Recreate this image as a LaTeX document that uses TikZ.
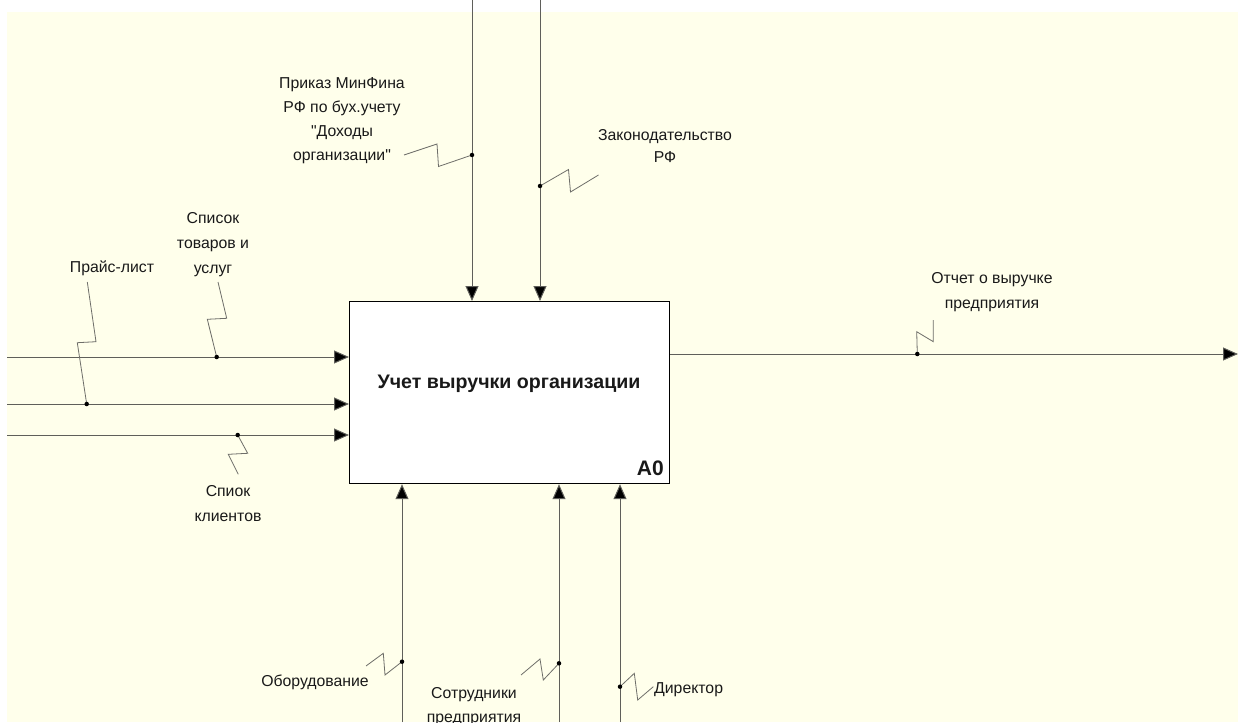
\documentclass[tikz,border=0pt]{standalone}
\usepackage{fontspec}
\setmainfont{Liberation Sans}[Ligatures=TeXOff]
\usetikzlibrary{arrows.meta}
\definecolor{bg}{RGB}{255,255,235}
\definecolor{ln}{RGB}{95,95,90}
\definecolor{sq}{RGB}{110,110,105}
\definecolor{tx}{RGB}{25,25,25}
\begin{document}
\begin{tikzpicture}[x=1pt,y=-1pt,
  arr/.style={draw=ln, line width=1pt, -{Triangle[length=15pt,width=13pt,fill=black]}},
  squig/.style={draw=sq, line width=0.8pt},
  dot/.style={circle, fill=black, inner sep=0pt, minimum size=4.5pt},
  lbl/.style={text=tx, font=\fontsize{15.8}{24}\selectfont, align=center, inner sep=0pt},
  procbox/.style={draw=black, line width=1.2pt, fill=white, minimum width=320pt, minimum height=182pt, anchor=north west, inner sep=0pt}
]
\useasboundingbox (0,0) rectangle (1238,722);
\fill[white] (0,0) rectangle (1238,722);
\fill[bg] (7,12) rectangle (1238,722);
\begin{scope}
\clip (0,0) rectangle (1238,722);

% process box
\node[procbox] (box) at (349,301) {};
\node[text=tx, font=\bfseries\fontsize{19.6}{21}\selectfont, inner sep=0pt] (title) at (509,384) {Учет выручки организации};
\node[text=tx, font=\bfseries\fontsize{21}{22}\selectfont, anchor=south east, inner sep=0pt] (a0) at (664,476) {A0};

% free ends
\coordinate (i1) at (7,357);
\coordinate (i2) at (7,404);
\coordinate (i3) at (7,435);
\coordinate (c1) at (472,0);
\coordinate (c2) at (540,0);
\coordinate (m1) at (402,722);
\coordinate (m2) at (559,722);
\coordinate (m3) at (620,722);
\coordinate (o1) at (1238,354);

% arrows
\draw[arr] (i1) -- (box.west |- i1);
\draw[arr] (i2) -- (box.west |- i2);
\draw[arr] (i3) -- (box.west |- i3);
\draw[arr] (c1) -- (c1 |- box.north);
\draw[arr] (c2) -- (c2 |- box.north);
\draw[arr] (m1) -- (m1 |- box.south);
\draw[arr] (m2) -- (m2 |- box.south);
\draw[arr] (m3) -- (m3 |- box.south);
\draw[arr] (box.east |- o1) -- (o1);

% labels
\node[lbl] (lprikaz) at (342,121) {Приказ МинФина\\РФ по бух.учету\\"Доходы\\организации"};
\node[lbl, font=\fontsize{15.8}{22}\selectfont] (lzakon) at (665,146.5) {Законодательство\\РФ};
\node[lbl, font=\fontsize{15.8}{25}\selectfont] (lspisok) at (213,245) {Список\\товаров и\\услуг};
\node[lbl] (lprice) at (112,268) {Прайс-лист};
\node[lbl, font=\fontsize{15.8}{25}\selectfont] (lklient) at (228,504) {Спиок\\клиентов};
\node[lbl, font=\fontsize{15.8}{25}\selectfont] (lotchet) at (992,292.5) {Отчет о выручке\\предприятия};
\node[lbl] (lobor) at (315,682) {Оборудование};
\node[lbl] (lsotr) at (474,707) {Сотрудники\\предприятия};
\node[lbl, anchor=west] (ldir) at (654,690) {Директор};

% squiggles and dots
\coordinate (dprikaz) at (472,155);
\draw[squig] (404,155) -- (437,144) -- (438.5,166.5) -- (dprikaz);
\node[dot] at (dprikaz) {};

\coordinate (dzakon) at (540,186);
\draw[squig] (dzakon) -- (568.5,169.5) -- (570.5,192) -- (598.5,175);
\node[dot] at (dzakon) {};

\coordinate (dspisok) at (216.7,357);
\draw[squig] (218,282) -- (226.7,318.3) -- (207.3,319.3) -- (dspisok);
\node[dot] at (dspisok) {};

\coordinate (dprice) at (86.7,404);
\draw[squig] (87.3,282) -- (96,341.7) -- (77.3,342.7) -- (dprice);
\node[dot] at (dprice) {};

\coordinate (dklient) at (237.7,435);
\draw[squig] (dklient) -- (247.7,453.3) -- (228.3,454.3) -- (238.3,474.3);
\node[dot] at (dklient) {};

\coordinate (dotchet) at (917.3,354);
\draw[squig] (dotchet) -- (916.7,331.7) -- (933.3,341.7) -- (933.3,320);
\node[dot] at (dotchet) {};

\coordinate (dobor) at (402,661.7);
\draw[squig] (366,666) -- (383.3,653.3) -- (385,675) -- (dobor);
\node[dot] at (dobor) {};

\coordinate (dsotr) at (559,663.3);
\draw[squig] (521,675) -- (540,659) -- (543.3,680) -- (dsotr);
\node[dot] at (dsotr) {};

\coordinate (ddir) at (620,686.7);
\draw[squig] (ddir) -- (634.3,673.3) -- (637.7,700) -- (653.3,686.7);
\node[dot] at (ddir) {};
\end{scope}
\end{tikzpicture}
\end{document}
